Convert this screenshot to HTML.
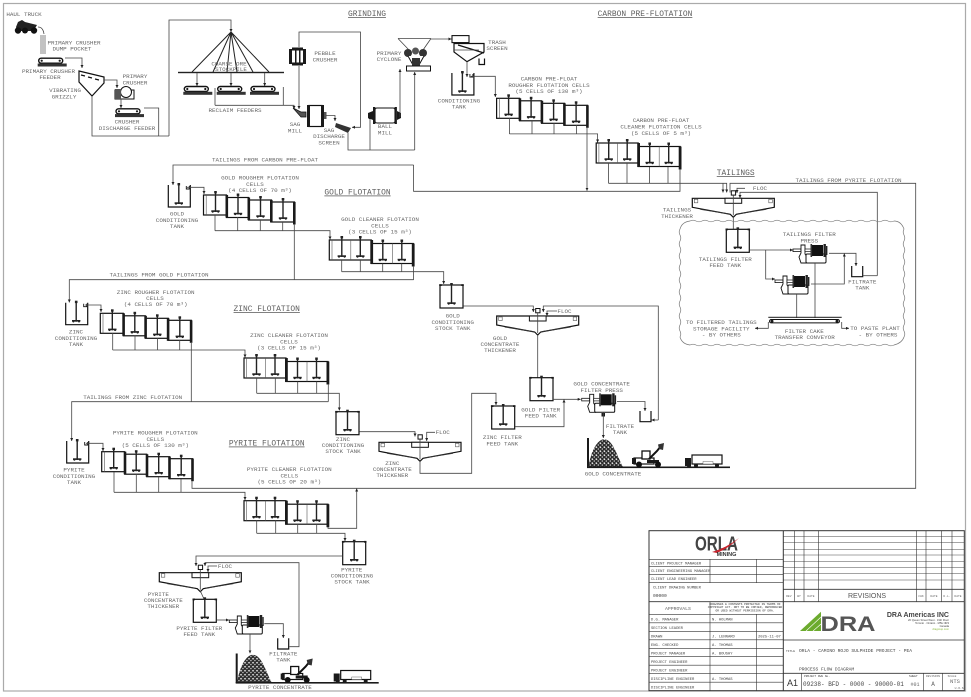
<!DOCTYPE html>
<html><head><meta charset="utf-8"><title>Process Flow Diagram</title>
<style>
html,body{margin:0;padding:0;background:#fff}
svg{display:block;filter:blur(.3px)}
text{font-family:"Liberation Mono",monospace;font-size:5.9px;fill:#666;text-anchor:middle}
.tt{font-size:7.9px;text-decoration:underline;fill:#5e5e5e}
.s{font-size:3.8px;text-anchor:start;fill:#444}
.l{fill:none;stroke:#444;stroke-width:.8}
.a{fill:none;stroke:#444;stroke-width:.8;marker-end:url(#ar)}
.k{fill:none;stroke:#111;stroke-width:1.2}
.g{fill:none;stroke:#555;stroke-width:.6}
.d{fill:#1a1a1a}
</style></head><body>
<svg width="971" height="697" viewBox="0 0 971 697" xmlns="http://www.w3.org/2000/svg">
<defs>
<marker id="ar" markerWidth="4" markerHeight="4" refX="3" refY="1.5" orient="auto" markerUnits="userSpaceOnUse"><path d="M0 0L3 1.5L0 3z" fill="#222"/></marker>
<pattern id="rock" width="4" height="4" patternUnits="userSpaceOnUse"><rect width="4" height="4" fill="#2a2a2a"/><path d="M.3 .8L1.8 .3 2.4 1.6 1 2.2zM2.6 2.6L3.8 2.2 3.8 3.6 2.8 3.8z" fill="#e8e8e8"/></pattern>
<g id="imp"><line x1="0" y1="-3" x2="0" y2="17" stroke="#222" stroke-width="1.4"/><rect x="-1.3" y="-4" width="2.6" height="2.4" fill="#222"/><rect x="-4.2" y="15.3" width="8.4" height="1.6" fill="#222"/><circle cx="-2.8" cy="16.8" r="1" fill="#222"/><circle cx="2.8" cy="16.8" r="1" fill="#222"/></g>
<g id="rough">
<rect class="k" x="0" y="0" width="23" height="20"/><line class="g" x1="2.7" y1="0" x2="2.7" y2="20"/>
<rect class="k" x="23" y="2.5" width="22" height="20"/><rect class="k" x="45" y="5" width="23" height="20"/><rect class="k" x="68" y="7" width="23" height="20"/>
<rect class="d" x="22" y="0" width="2.6" height="22.5"/><rect class="d" x="44" y="2.5" width="2.6" height="22.5"/><rect class="d" x="66.5" y="5" width="2.6" height="22.5"/><rect class="d" x="89.5" y="7" width="2.6" height="22.5"/>
<use href="#imp" x="12" y="0"/><use href="#imp" x="34.5" y="2.5"/><use href="#imp" x="57" y="5"/><use href="#imp" x="79.5" y="7"/>
</g>
<g id="clean">
<rect class="k" x="0" y="0" width="42" height="20"/><line class="g" x1="2.7" y1="0" x2="2.7" y2="20"/><line class="g" x1="21.5" y1="0" x2="21.5" y2="20"/>
<rect class="k" x="42" y="3.5" width="42" height="20"/><line class="g" x1="63" y1="3.5" x2="63" y2="23.5"/>
<rect class="d" x="41" y="0" width="2.8" height="24"/><rect class="d" x="82.5" y="3.5" width="2.8" height="23"/>
<use href="#imp" x="12.5" y="0"/><use href="#imp" x="31" y="0"/><use href="#imp" x="53.5" y="3.5"/><use href="#imp" x="72.5" y="3.5"/>
</g>
<g id="st"><rect class="k" x="0" y="0" width="23" height="23"/><rect x="-.8" y="-.8" width="2.5" height="1.8" class="d"/><rect x="21.3" y="-.8" width="2.5" height="1.8" class="d"/><use href="#imp" x="11.5" y="2"/></g>
<g id="ot"><path class="k" d="M0 0V22H22V0"/><use href="#imp" x="10.5" y="2"/><path d="M18 1v3h3v-3" fill="none" stroke="#111" stroke-width=".9"/></g>
<g id="th"><path class="k" d="M0 0H82V9L44 16 41 19 38 16 0 9z"/><path d="M8 11L36 15.5M74 11L46 15.5" stroke="#333" stroke-width=".9"/><rect class="g" x="2" y="1" width="3.5" height="3.5"/><rect class="g" x="76.5" y="1" width="3.5" height="3.5"/><rect x="32.7" y="0" width="16.7" height="5" fill="#fff" stroke="#111" stroke-width="1"/><rect x="39" y="-7.5" width="4.3" height="4.3" fill="#fff" stroke="#111" stroke-width="1"/><line class="l" x1="41" y1="-3" x2="41" y2="17"/></g>
<g id="fp"><rect x="0" y="5" width="8" height="2.6" fill="#fff" stroke="#111" stroke-width=".8"/><path d="M6 13L8 9V1h4v9l2 3v6H8z" fill="#fff" stroke="#111" stroke-width=".9"/><rect x="12" y="5" width="6" height="2.6" fill="#fff" stroke="#111" stroke-width=".7"/><rect x="13" y="10" width="20" height="9" rx="1.2" fill="#fff" stroke="#111" stroke-width="1"/><rect x="19" y="1" width="11" height="11" fill="#111"/><rect x="17.5" y="0" width="1.6" height="13" fill="#333"/><rect x="30.5" y="0" width="2.4" height="13" fill="#222"/><rect x="33" y="2" width="1.4" height="9" fill="#222"/></g>
<g id="ut"><path class="k" d="M0 0V10.7H11V0"/></g>
<g id="fd"><rect x="1" y=".5" width="24" height="5" rx="2.5" fill="#fff" stroke="#111" stroke-width="1.4"/><rect x="0" y="5.8" width="29" height="3" fill="#333"/><circle cx="4" cy="3" r="1.1" class="d"/><circle cx="22" cy="3" r="1.1" class="d"/></g>
<g id="conc">
<rect class="d" x="0" y="0" width="2" height="29.5"/><path d="M1.5 29C4 12 11 1.3 17 1.3 26 1.3 30 18 36 29z" fill="url(#rock)"/>
<rect class="d" x="0" y="28.5" width="143" height="1.6"/>
<rect x="47" y="20" width="20" height="6" fill="#fff" stroke="#111" stroke-width="1.2"/><rect x="45" y="20" width="4" height="6" class="d"/><rect x="55" y="13" width="8" height="8" fill="#fff" stroke="#111" stroke-width="1.3"/><path d="M62 21L70 13 74 8" stroke="#111" stroke-width="2" fill="none"/><path d="M71 6.500L77 5 76 12 72 11z" fill="#333"/><rect x="60" y="22" width="12" height="3" class="d"/><circle cx="52" cy="26.500" r="3" fill="#111"/><circle cx="71" cy="26.500" r="3" fill="#111"/>
<rect x="105" y="17" width="30" height="9" fill="#fff" stroke="#111" stroke-width="1.2"/><rect x="98" y="20" width="6" height="8" class="d"/><circle cx="102" cy="27.500" r="2" class="d"/><circle cx="109" cy="27.500" r="2" class="d"/><circle cx="130" cy="27.500" r="2" class="d"/><rect x="116" y="23.500" width="10" height="2.500" fill="#fff" stroke="#444" stroke-width=".4"/>
</g>
</defs>
<rect width="971" height="697" fill="#fff"/>
<rect x="3.5" y="3.5" width="962" height="687.5" fill="none" stroke="#aaa" stroke-width="1.2"/>

<!-- Crushing -->
<text x="24" y="16">HAUL TRUCK</text>
<path d="M16 27l2-5 4-2 3 2 12 3-3 5-2 1H17z" fill="#222"/><circle cx="18" cy="30.5" r="3.2" fill="#111"/><circle cx="25" cy="30.5" r="3" fill="#111"/><circle cx="34" cy="30.5" r="3.2" fill="#111"/>
<path d="M38 27q5 0 6 7" class="l"/><path d="M41 35V54M43 35V54M45 35V54" stroke="#666" stroke-width=".8" fill="none"/>
<text x="74" y="44.5">PRIMARY CRUSHER</text><text x="72" y="50.5">DUMP POCKET</text>
<use href="#fd" x="37.7" y="57.7"/>
<text x="48.5" y="73">PRIMARY CRUSHER</text><text x="50" y="79">FEEDER</text>
<polyline class="a" points="65,58 82,58 82,68"/>
<path class="k" d="M79 71L104 77V83L92 96 79 82z"/><path d="M81 75l4 1M88 77l4 1M95 79l4 1" stroke="#111" stroke-width="1.2"/>
<text x="65" y="92">VIBRATING</text><text x="64" y="98.5">GRIZZLY</text>
<polyline class="a" points="104,80 117,80 117,88"/>
<rect x="115" y="90" width="19" height="9" fill="#fff" stroke="#111" stroke-width="1"/><circle cx="126" cy="92" r="5.5" fill="#fff" stroke="#111" stroke-width="1"/><rect x="115" y="89" width="6" height="10" fill="#555"/>
<text x="135" y="78">PRIMARY</text><text x="135" y="84.5">CRUSHER</text>
<polyline class="a" points="121,99 121,108"/>
<use href="#fd" x="115" y="108.3"/>
<text x="127" y="123.5">CRUSHER</text><text x="127" y="130">DISCHARGE FEEDER</text>
<polyline class="l" points="92,96 92,136 169,136"/>
<polyline class="l" points="144,108 158.7,108 158.7,136"/>
<polyline class="a" points="169,136 169,20 231,20 231,32"/>
<!-- Stockpile -->
<rect x="178" y="71.8" width="106" height="1.4" fill="#222"/>
<path d="M231 32L192 72M231 32L213 72M231 32L227 72M231 32L237 72M231 32L253 72M231 32L269 72" stroke="#222" stroke-width="1" fill="none"/>
<text x="229" y="65.5">COARSE ORE</text><text x="231" y="71">STOCKPILE</text>
<polyline class="a" points="197,73 197,86"/><polyline class="a" points="231,73 231,86"/><polyline class="a" points="264.7,73 264.7,86"/>
<use href="#fd" x="183.3" y="86"/><use href="#fd" x="216.7" y="86"/><use href="#fd" x="250" y="86"/>
<polyline class="l" points="215,88 215,105.3"/><polyline class="l" points="283.3,87 283.3,105.3"/>
<polyline class="a" points="215,105.3 294,105.3 294,109"/>
<text x="235" y="112">RECLAIM FEEDERS</text>
<!-- Grinding -->
<text class="tt" x="367" y="16">GRINDING</text>
<polyline class="a" points="299,47 299,32 360.5,32 360.5,127.3 352,127.3"/>
<rect x="290" y="50" width="15" height="13" fill="#fff" stroke="#111" stroke-width="1"/><rect x="289" y="49" width="3" height="15" class="d"/><rect x="303" y="49" width="3" height="15" class="d"/><rect x="292" y="47.500" width="11" height="2.500" class="d"/><rect x="292" y="63" width="11" height="2.500" class="d"/><rect x="295" y="50" width="1.500" height="13" class="d"/><rect x="299" y="50" width="1.500" height="13" class="d"/>
<text x="325" y="55">PEBBLE</text><text x="325" y="61.5">CRUSHER</text>
<polyline class="a" points="299,66 299,109"/>
<path d="M293 108l8 4 5 0v5l-5 0z" fill="#555" stroke="#111" stroke-width=".7"/>
<rect x="309" y="105.5" width="13" height="21" fill="#fff" stroke="#111" stroke-width="1.2"/><rect x="307" y="105" width="3" height="22" class="d"/><rect x="321" y="105" width="3" height="22" class="d"/><rect x="324" y="112" width="2.5" height="7" fill="#555"/>
<text x="295" y="126">SAG</text><text x="295" y="132.5">MILL</text>
<polyline class="a" points="326,115.5 335,115.5 335,121"/>
<path d="M336 123L351 128 348 133 335 127z" fill="#333"/>
<text x="329" y="132">SAG</text><text x="329" y="138">DISCHARGE</text><text x="329" y="144.5">SCREEN</text>
<polyline class="l" points="348,133 348,150 414.7,150"/>
<polyline class="a" points="370,150 370,116"/>
<rect x="375" y="108" width="20" height="15" rx="2" fill="#fff" stroke="#111" stroke-width="1.1"/><rect x="373" y="107" width="2.4" height="17" class="d"/><rect x="394.5" y="107" width="2.4" height="17" class="d"/><path d="M368 113l5-2v9l-5-2zM401 113l-4-2v9l4-2z" class="d"/>
<text x="385" y="128">BALL</text><text x="385" y="134.5">MILL</text>
<polyline class="a" points="400,117 400,69"/><polyline class="a" points="414.7,150 414.7,72"/>
<path class="l" d="M398 38.500H431M398 38.500L409 50M431 38.500L423 50"/>
<polyline class="a" points="431,39 451.500,39"/>
<circle cx="408" cy="53" r="4" fill="#333"/><circle cx="423" cy="53" r="4" fill="#333"/><circle cx="415.500" cy="51" r="3.500" fill="#555"/><path d="M408 56l5 9h6l5-9" fill="#fff" stroke="#111" stroke-width="1"/><rect x="412" y="58" width="8" height="8" fill="#333"/><rect x="406.500" y="66" width="24" height="5" fill="#fff" stroke="#111" stroke-width="1"/>
<text x="389" y="55">PRIMARY</text><text x="389" y="61">CYCLONE</text>
<!-- Carbon -->
<text class="tt" x="645" y="16">CARBON PRE-FLOTATION</text>
<rect x="452" y="35.600" width="17" height="7" fill="#fff" stroke="#111" stroke-width="1.100"/>
<path class="k" d="M454 43.500H484V52L467 61.700 454 52z"/><path d="M458 45L484 53" stroke="#111" stroke-width="1.300"/><line class="l" x1="454" y1="50" x2="479" y2="50"/>
<path class="k" d="M479 58.500v6h5.500v-6"/>
<text x="497" y="44">TRASH</text><text x="497" y="50">SCREEN</text>
<polyline class="a" points="467,61.700 467,77"/>
<use href="#ot" x="451.900" y="73"/>
<text x="459" y="102.500">CONDITIONING</text><text x="459" y="108.500">TANK</text>
<polyline class="a" points="471,76.300 495.300,76.300 495.300,97"/>
<text x="549" y="80.500">CARBON PRE-FLOAT</text><text x="549" y="87">ROUGHER FLOTATION CELLS</text><text x="549" y="93">(5 CELLS OF 130 m³)</text>
<use href="#rough" x="496.600" y="98.300"/>
<path class="l" d="M509.500 118V134M532 120V134M554 123V134M576.600 125V134"/>
<polyline class="a" points="509.500,133.900 597.600,133.900 597.600,142.500"/>
<polyline class="a" points="587,127 587,190.800"/>
<text x="661" y="122">CARBON PRE-FLOAT</text><text x="661" y="128.500">CLEANER FLOTATION CELLS</text><text x="661" y="135">(5 CELLS OF 5 m³)</text>
<use href="#clean" x="596.200" y="143"/>
<path class="l" d="M608.500 163V183.300M627 163V183.300M649.500 167V183.300M668 167V183.300"/>
<polyline class="a" points="608.500,183.300 726.700,183.300 726.700,192.500"/>
<polyline class="l" points="680,169 680,191.300 413.600,191.300 413.600,165"/>
<polyline class="a" points="413.600,165 173,165 173,185"/>
<text x="265" y="161.500">TAILINGS FROM CARBON PRE-FLOAT</text>
<!-- Gold -->
<text x="260" y="179.500">GOLD ROUGHER FLOTATION</text><text x="255" y="185.800">CELLS</text><text x="260" y="191.800">(4 CELLS OF 70 m³)</text>
<text class="tt" x="357.500" y="194.500">GOLD FLOTATION</text>
<use href="#ot" x="168.300" y="185"/>
<text x="177" y="215.500">GOLD</text><text x="177" y="222">CONDITIONING</text><text x="177" y="228">TANK</text>
<polyline class="a" points="187,187.300 204,187.300 204,194"/>
<use href="#rough" x="203.500" y="195"/>
<path class="l" d="M215 215V230.700M237.700 217V230.700M260.300 220V230.700M282.700 222V230.700"/>
<polyline class="a" points="215,230.700 330,230.700 330,239.500"/>
<polyline class="l" points="294.300,224 294.300,279.700"/>
<text x="380" y="221">GOLD CLEANER FLOTATION</text><text x="380" y="227.500">CELLS</text><text x="380" y="233.500">(3 CELLS OF 15 m³)</text>
<use href="#clean" x="329.300" y="240"/>
<path class="l" d="M341.700 260V271.700M360.300 260V271.700M382.700 263.500V271.700M401.700 263.500V271.700"/>
<polyline class="a" points="341.700,271.700 443.700,271.700 443.700,284"/>
<polyline class="l" points="413.600,266 413.600,279.700"/>
<polyline class="a" points="413.600,279.700 69.300,279.700 69.300,302.500"/>
<text x="159" y="276.500">TAILINGS FROM GOLD FLOTATION</text>
<use href="#st" x="440" y="285"/>
<text x="452.700" y="317.500">GOLD</text><text x="452.700" y="324">CONDITIONING</text><text x="452.700" y="330">STOCK TANK</text>
<polyline class="a" points="463.300,306 533.300,306 533.300,312"/>
<use href="#th" x="496.700" y="316"/>
<polyline class="a" points="658.300,420 658.300,306 543.300,306 543.300,312"/>
<polyline class="a" points="557,311 547,311 547,316"/>
<text x="564.500" y="313">FLOC</text>
<text x="500" y="340">GOLD</text><text x="500" y="346">CONCENTRATE</text><text x="500" y="352">THICKENER</text>
<line class="l" x1="537.700" y1="335" x2="537.700" y2="377.700"/>
<use href="#st" x="530" y="377.700"/>
<text x="540.700" y="411.500">GOLD FILTER</text><text x="540.700" y="417.500">FEED TANK</text>
<polyline class="a" points="553,399.300 580.700,399.300"/>
<use href="#fp" x="581.700" y="393.300"/>
<text x="601.700" y="385.500">GOLD CONCENTRATE</text><text x="601.700" y="392">FILTER PRESS</text>
<polyline class="a" points="617,401.500 645,401.500 645,411"/>
<use href="#ut" x="640" y="411"/>
<polyline class="a" points="658.300,420 651.500,420"/>
<rect x="601.500" y="413" width="3.500" height="3.500" class="d"/>
<polyline class="a" points="603.300,412.700 603.300,438"/>
<text x="620" y="428">FILTRATE</text><text x="620" y="434">TANK</text>
<use href="#conc" x="587" y="438"/>
<text x="613" y="475.500">GOLD CONCENTRATE</text>
<!-- Zinc -->
<use href="#ot" x="65.700" y="302.700"/>
<text x="76" y="333.500">ZINC</text><text x="76" y="340">CONDITIONING</text><text x="76" y="346">TANK</text>
<polyline class="a" points="85,305 101,305 101,312"/>
<text x="155.700" y="294">ZINC ROUGHER FLOTATION</text><text x="155" y="300">CELLS</text><text x="155.700" y="306">(4 CELLS OF 70 m³)</text>
<text class="tt" x="266.700" y="311">ZINC FLOTATION</text>
<use href="#rough" x="100.300" y="313.300"/>
<path class="l" d="M112.700 333V350M135 335.500V350M157.500 338V350M179.700 340V350"/>
<polyline class="a" points="112.700,350 245,350 245,357.500"/>
<polyline class="l" points="191.300,343 191.300,401.700"/>
<text x="289" y="337">ZINC CLEANER FLOTATION</text><text x="289" y="343.500">CELLS</text><text x="289" y="349.500">(3 CELLS OF 15 m³)</text>
<use href="#clean" x="244" y="358"/>
<path class="l" d="M256.700 378V393.300M275.300 378V393.300M297.700 381.500V393.300M316.700 381.500V393.300"/>
<polyline class="a" points="256.700,393.300 339.300,393.300 339.300,410.500"/>
<polyline class="l" points="328.300,384 328.300,401.700"/>
<polyline class="a" points="328.300,401.700 71.700,401.700 71.700,441"/>
<text x="132.700" y="399">TAILINGS FROM ZINC FLOTATION</text>
<use href="#st" x="336" y="411.700"/>
<text x="343" y="441">ZINC</text><text x="343" y="447">CONDITIONING</text><text x="343" y="453">STOCK TANK</text>
<polyline class="a" points="359.300,431.700 415,431.700 415,436.500"/>
<use href="#th" x="379" y="442.300"/>
<polyline class="a" points="435,432.300 426.700,432.300 426.700,441"/>
<text x="442.700" y="434">FLOC</text>
<text x="392.300" y="465">ZINC</text><text x="392.300" y="471">CONCENTRATE</text><text x="392.300" y="477">THICKENER</text>
<polyline class="a" points="420,461 420,473.300 471.700,473.300 471.700,393.300 496,393.300 496,405"/>
<use href="#st" x="491.700" y="406"/>
<text x="502.300" y="439">ZINC FILTER</text><text x="502.300" y="445.500">FEED TANK</text>
<polyline class="a" points="515,426.700 564,426.700 564,399.500"/>
<!-- Pyrite -->
<use href="#ot" x="66.700" y="441"/>
<text x="74" y="471.500">PYRITE</text><text x="74" y="478">CONDITIONING</text><text x="74" y="484">TANK</text>
<polyline class="a" points="86,443.300 103,443.300 103,451"/>
<text x="155.300" y="434.500">PYRITE ROUGHER FLOTATION</text><text x="155.300" y="441">CELLS</text><text x="155.300" y="447">(5 CELLS OF 130 m³)</text>
<text class="tt" x="266.700" y="445.500">PYRITE FLOTATION</text>
<use href="#rough" x="101.700" y="451.700"/>
<path class="l" d="M114 472V492.300M136.300 474V492.300M158.700 477V492.300M181 479V492.300"/>
<polyline class="a" points="114,492.300 245,492.300 245,500"/>
<polyline class="l" points="192,481 192,488.300 915.700,488.300 915.700,183.300 730,183.300 730,192.500"/>
<text x="848.500" y="182">TAILINGS FROM PYRITE FLOTATION</text>
<text x="289.300" y="471">PYRITE CLEANER FLOTATION</text><text x="289.300" y="477.500">CELLS</text><text x="289.300" y="483.500">(5 CELLS OF 20 m³)</text>
<use href="#clean" x="244" y="500.700"/>
<path class="l" d="M256.700 520V533.300M275.700 520V533.300M297.700 524V533.300M316.700 524V533.300"/>
<polyline class="a" points="256.700,533.300 345,533.300 345,541"/>
<polyline class="a" points="328,527 328,528.300 356.700,528.300 356.700,488.500"/>
<use href="#st" x="342.700" y="541.700"/>
<text x="351.700" y="571.500">PYRITE</text><text x="352" y="577.500">CONDITIONING</text><text x="352" y="583.500">STOCK TANK</text>
<polyline class="a" points="342.700,556 196,556 196,566"/>
<use href="#th" x="159.300" y="572.700"/>
<polyline class="a" points="217,566 208,566 208,572"/>
<text x="225" y="568">FLOC</text>
<polyline class="a" points="289.500,646.700 299,646.700 299,562.700 205,562.700 205,566"/>
<text x="158.300" y="596">PYRITE</text><text x="163.300" y="602">CONCENTRATE</text><text x="163.300" y="608">THICKENER</text>
<line class="l" x1="200.300" y1="591" x2="204" y2="599"/>
<use href="#st" x="193.300" y="599.300"/>
<text x="199.300" y="630">PYRITE FILTER</text><text x="199.300" y="636">FEED TANK</text>
<polyline class="a" points="216.700,620 229,620"/>
<use href="#fp" x="229.300" y="615"/>
<polyline class="a" points="264.300,623.700 283.300,623.700 283.300,638"/>
<use href="#ut" x="277.700" y="638.300"/>
<polyline class="a" points="250,634 250,653.300"/>
<text x="283.300" y="655.500">FILTRATE</text><text x="283.300" y="661.500">TANK</text>
<use href="#conc" x="235.700" y="653.500"/>
<text x="280" y="689">PYRITE CONCENTRATE</text>
<!-- Tailings -->
<text class="tt" x="735.700" y="175">TAILINGS</text>
<polyline class="a" points="723,183.300 723,192.500"/>
<use href="#th" x="692.300" y="198.300"/>
<polyline class="a" points="877.300,275.700 877.300,192.300 740,192.300 740,198"/>
<polyline class="a" points="745,188.300 737,188.300 737,193"/>
<text x="760" y="190">FLOC</text>
<text x="677" y="211.500">TAILINGS</text><text x="677" y="218">THICKENER</text>
<line class="l" x1="733.300" y1="217" x2="733.300" y2="229"/>
<path fill="none" stroke="#777" stroke-width=".7" d="M690 221q3-1.600 6 0t6 0t6 0t6 0t6 0t6 0t6 0t6 0t6 0t6 0t6 0t6 0t6 0t6 0t6 0t6 0t6 0t6 0t6 0t6 0t6 0t6 0t6 0t6 0t6 0t6 0t6 0t6 0t6 0t6 0t6 0t6 0t6 0t6 0q7 0 10 8q-1.600 3 0 6t0 6t0 6t0 6t0 6t0 6t0 6t0 6t0 6t0 6t0 6t0 6t0 6t0 6t0 6t0 6t0 6t0 6q-2 6-10 8q-3 1.600-6 0t-6 0t-6 0t-6 0t-6 0t-6 0t-6 0t-6 0t-6 0t-6 0t-6 0t-6 0t-6 0t-6 0t-6 0t-6 0t-6 0t-6 0t-6 0t-6 0t-6 0t-6 0t-6 0t-6 0t-6 0t-6 0t-6 0t-6 0t-6 0t-6 0t-6 0t-6 0t-6 0t-6 0q-8-1-10-8q1.600-3 0-6t0-6t0-6t0-6t0-6t0-6t0-6t0-6t0-6t0-6t0-6t0-6t0-6t0-6t0-6t0-6t0-6t0-6q2-7 10-8z"/>
<use href="#st" x="726.300" y="229.300"/>
<text x="725.300" y="261">TAILINGS FILTER</text><text x="725.300" y="267">FEED TANK</text>
<polyline class="a" points="749.700,250 793,250"/>
<polyline class="a" points="765.700,250 765.700,279 775,279"/>
<use href="#fp" x="793" y="244"/><use href="#fp" x="775" y="275"/>
<text x="809.300" y="236">TAILINGS FILTER</text><text x="809.300" y="242.500">PRESS</text>
<polyline class="a" points="829,253.300 856,253.300 856,266"/>
<polyline class="a" points="811,284 844.300,284 844.300,253.500"/>
<use href="#ut" x="851.700" y="266"/>
<line class="l" x1="862.700" y1="275.700" x2="877.300" y2="275.700"/>
<text x="862.300" y="283.500">FILTRATE</text><text x="862.300" y="289.500">TANK</text>
<line class="l" x1="815" y1="263" x2="815" y2="318"/><line class="l" x1="796.700" y1="294" x2="796.700" y2="318"/>
<rect x="768.300" y="316.800" width="73.400" height="1" class="d"/>
<rect x="769.500" y="319.500" width="70" height="3.400" rx="1.700" fill="#fff" stroke="#111" stroke-width="1"/><circle cx="772" cy="321.200" r="1.500" class="d"/><circle cx="837" cy="321.200" r="1.500" class="d"/>
<polyline class="a" points="768.300,322 768.300,328.300 755,328.300"/>
<polyline class="a" points="841.700,322 841.700,328.300 849,328.300"/>
<text x="721.300" y="324">TO FILTERED TAILINGS</text><text x="721.300" y="330.500">STORAGE FACILITY</text><text x="721.300" y="336.500">- BY OTHERS</text>
<text x="804.300" y="333">FILTER CAKE</text><text x="804.700" y="339">TRANSFER CONVEYOR</text>
<text x="875" y="330">TO PASTE PLANT</text><text x="878" y="336.500">- BY OTHERS</text>

<!-- Title block -->
<g fill="none" stroke="#333" stroke-width=".6">
<rect x="649" y="530.700" width="315.300" height="160" stroke-width="1"/>
<line x1="783.300" y1="530.700" x2="783.300" y2="690.700" stroke-width="1"/>
<path d="M649 559.300H783.300M649 566.700H783.300M649 574.700H783.300M649 582.700H783.300"/>
<path d="M649 601.700H964.300" stroke-width=".9"/>
<path d="M649 614.300H783.300M649 622.800H783.300M649 631.300H783.300M649 639.800H783.300M649 648.300H783.300M649 656.700H783.300M649 665.200H783.300M649 673.700H783.300M649 682.200H783.300"/>
<path d="M710 559.300V582.700M756.700 559.300V582.700M710 601.700V690.700M756.700 614.300V690.700"/>
<path d="M783.300 536.700H964.300M783.300 542.700H964.300M783.300 549.300H964.300M783.300 555H964.300M783.300 561.700H964.300M783.300 567.700H964.300M783.300 573.300H964.300M783.300 580H964.300" stroke-width=".45"/>
<path d="M783.300 589.300H964.300" stroke-width=".8"/>
<path d="M794.300 530.700V601.700M804 530.700V601.700M818.700 530.700V601.700M916.700 530.700V601.700M926 530.700V601.700M941.700 530.700V601.700M952 530.700V601.700"/>
<path d="M783.300 640H964.300M783.300 673.300H964.300" stroke-width=".8"/>
<path d="M801.700 673.300V690.700M923.300 673.300V690.700M942.700 673.300V690.700"/>
</g>
<text style="font-family:'Liberation Sans',sans-serif;font-weight:bold;font-size:20px;fill:#444" x="716.500" y="550.500" textLength="43" lengthAdjust="spacingAndGlyphs">ORLA</text>
<path d="M712 552Q726 548 739 538 729 548 717 553z" fill="#c8232c"/>
<text style="font-family:'Liberation Sans',sans-serif;font-weight:bold;font-size:5.500px;fill:#333" x="726.500" y="556">MINING</text>
<text class="s" x="651" y="564.500">CLIENT PROJECT MANAGER</text><text class="s" x="651" y="572">CLIENT ENGINEERING MANAGER</text><text class="s" x="651" y="580">CLIENT LEAD ENGINEER</text>
<text class="s" x="653" y="588.500">CLIENT DRAWING NUMBER</text><text class="s" style="font-size:4.600px" x="653" y="597">00000</text>
<text style="font-size:4.800px" x="678" y="610">APPROVALS</text>
<text style="font-size:2.900px;fill:#333" x="745" y="605">DRAWINGS &amp; CONTENTS PROTECTED IN TERMS OF</text><text style="font-size:2.900px;fill:#333" x="745" y="608.200">COPYRIGHT ACT. NOT TO BE COPIED, REPRODUCED</text><text style="font-size:2.900px;fill:#333" x="745" y="611.400">OR USED WITHOUT PERMISSION OF DRA.</text>
<text class="s" x="651" y="620.500">D.G. MANAGER</text><text class="s" x="712" y="620.500">N. HOLMAN</text>
<text class="s" x="651" y="629">SECTION LEADER</text>
<text class="s" x="651" y="637.500">DRAWN</text><text class="s" x="712" y="637.500">J. LENNARD</text><text class="s" x="758" y="637.500">2025-11-07</text>
<text class="s" x="651" y="646">ENG. CHECKED</text><text class="s" x="712" y="646">A. THOMAS</text>
<text class="s" x="651" y="654.500">PROJECT MANAGER</text><text class="s" x="712" y="654.500">A. BOUSHY</text>
<text class="s" x="651" y="663">PROJECT ENGINEER</text>
<text class="s" x="651" y="671.500">PROJECT ENGINEER</text>
<text class="s" x="651" y="680">DISCIPLINE ENGINEER</text><text class="s" x="712" y="680">A. THOMAS</text>
<text class="s" x="651" y="688.500">DISCIPLINE ENGINEER</text>
<g style="font-size:3px"><text style="font-size:3px" x="788.800" y="597">REV</text><text style="font-size:3px" x="799" y="597">BY</text><text style="font-size:3px" x="811" y="597">DATE</text><text style="font-size:3px" x="921" y="597">CHK</text><text style="font-size:3px" x="934" y="597">DATE</text><text style="font-size:3px" x="947" y="597">D.L.</text><text style="font-size:3px" x="958" y="597">DATE</text></g>
<text style="font-family:'Liberation Sans',sans-serif;font-size:7px;fill:#555" x="867" y="598">REVISIONS</text>
<polygon points="800,631 821,611.700 821,631" fill="#6cab2e"/><path d="M806 631L821 617M813 631L821 624" stroke="#fff" stroke-width=".6"/>
<text style="font-family:'Liberation Sans',sans-serif;font-weight:bold;font-size:21px;fill:#555" x="848" y="631" textLength="55" lengthAdjust="spacingAndGlyphs">DRA</text>
<g style="font-family:'Liberation Sans',sans-serif">
<text style="font-family:'Liberation Sans',sans-serif;font-weight:bold;font-size:7px;text-anchor:end;fill:#444" x="949" y="617">DRA Americas INC</text>
<text style="font-family:'Liberation Sans',sans-serif;font-size:2.700px;text-anchor:end;fill:#444" x="949" y="621">20 Queen Street West · 19th Floor</text>
<text style="font-family:'Liberation Sans',sans-serif;font-size:2.700px;text-anchor:end;fill:#444" x="949" y="624">Toronto · Ontario · M5H 3R3</text>
<text style="font-family:'Liberation Sans',sans-serif;font-size:2.700px;text-anchor:end;fill:#444" x="949" y="627">Canada</text>
<text style="font-family:'Liberation Sans',sans-serif;font-size:2.700px;text-anchor:end;fill:#8ab83c" x="949" y="630">dragroup.com</text>
</g>
<text class="s" style="font-size:3px" x="786" y="652">TITLE</text>
<text class="s" style="font-size:4.600px" x="799" y="652">ORLA - CAMINO ROJO SULPHIDE PROJECT - PEA</text>
<text class="s" style="font-size:4.600px" x="799" y="670.500">PROCESS FLOW DIAGRAM</text>
<text style="font-family:'Liberation Sans',sans-serif;font-size:9px;fill:#333" x="792.500" y="686">A1</text>
<text class="s" style="font-size:2.900px" x="804" y="677">PROJECT DWG No.</text>
<text class="s" style="font-size:6px" x="803" y="686">09238- BFD - 0000 - 90000-01</text>
<text class="s" style="font-size:2.900px" x="909" y="677">SHEET</text>
<text style="font-size:5px" x="915" y="686">#01</text>
<text style="font-size:2.900px" x="933" y="677">REVISION</text><text style="font-size:6px" x="933" y="686">A</text>
<text style="font-size:2.900px" x="952" y="677">SCALE</text><text style="font-size:5.500px" x="955" y="683">NTS</text><text style="font-size:3px" x="960" y="689">U.O.S.</text>
</svg>
</body></html>
